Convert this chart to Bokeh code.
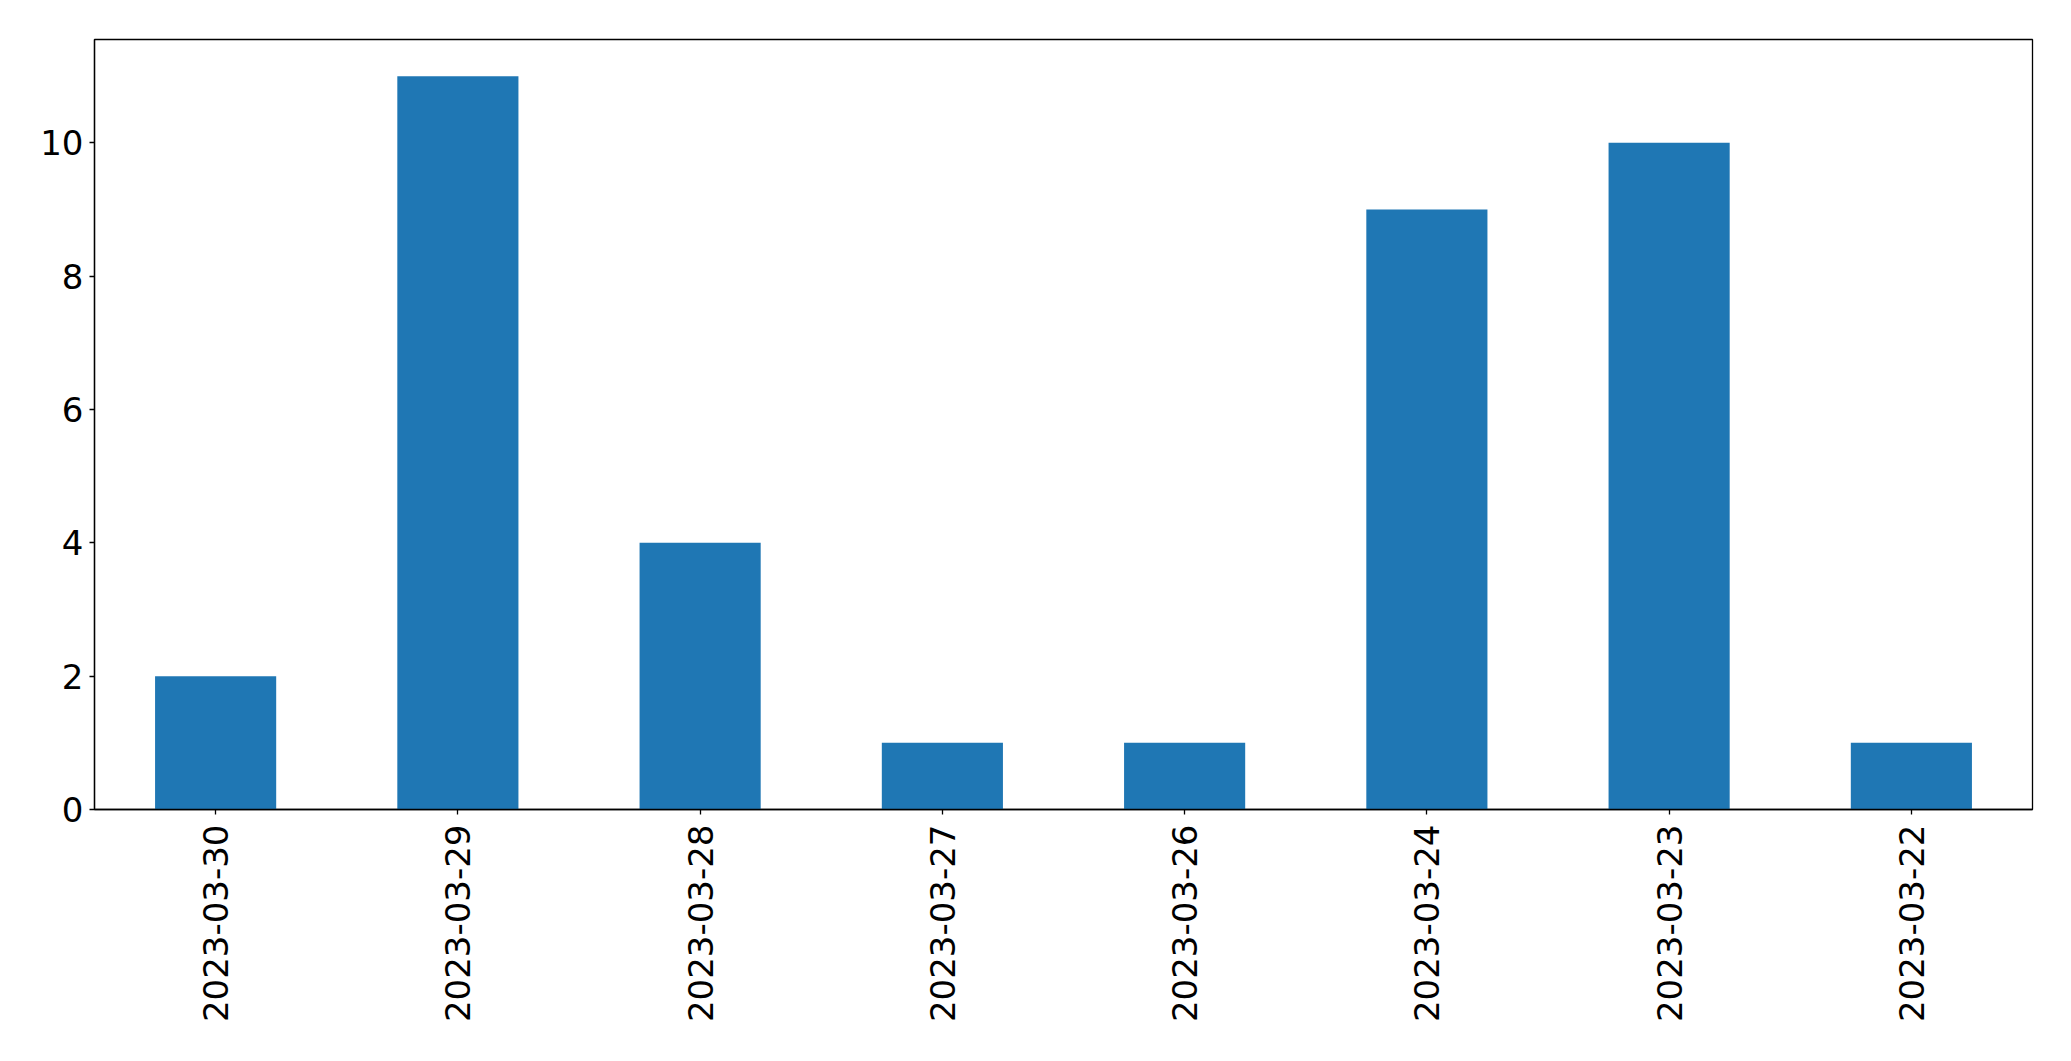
import math
from bokeh.plotting import figure
from bokeh.models import FactorRange, Range1d, FixedTicker
from bokeh.embed import file_html
from bokeh.resources import INLINE

dates = ["2023-03-30", "2023-03-29", "2023-03-28", "2023-03-27",
         "2023-03-26", "2023-03-24", "2023-03-23", "2023-03-22"]
counts = [2, 11, 4, 1, 1, 9, 10, 1]
y_ticks = [0, 2, 4, 6, 8, 10]

p = figure(width=2063, height=1053, output_backend="svg", toolbar_location=None,
           x_range=FactorRange(*dates), y_range=Range1d(0, 11.55),
           min_border_left=94, min_border_top=39, min_border_right=31, min_border_bottom=244)

p.vbar(x=dates, top=counts, width=0.5, color="#1f77b4", line_color=None)

p.xgrid.visible = False
p.ygrid.visible = False
p.outline_line_color = "black"
p.outline_line_width = 1.3
p.background_fill_color = "white"
p.border_fill_color = "white"

for ax in (p.xaxis, p.yaxis):
    ax.major_label_text_font = "DejaVu Sans"
    ax.major_label_text_font_size = "34px"
    ax.major_label_text_color = "black"
    ax.axis_line_color = "black"
    ax.axis_line_width = 1.3
    ax.major_tick_line_color = "black"
    ax.major_tick_line_width = 1.3
    ax.major_tick_out = 5
    ax.major_tick_in = 0
    ax.minor_tick_line_color = None

p.yaxis.ticker = FixedTicker(ticks=y_ticks)
p.yaxis.major_label_standoff = 6
p.xaxis.major_label_orientation = math.pi / 2
p.xaxis.major_label_standoff = 10

open("out.html", "w").write(file_html(p, INLINE))
